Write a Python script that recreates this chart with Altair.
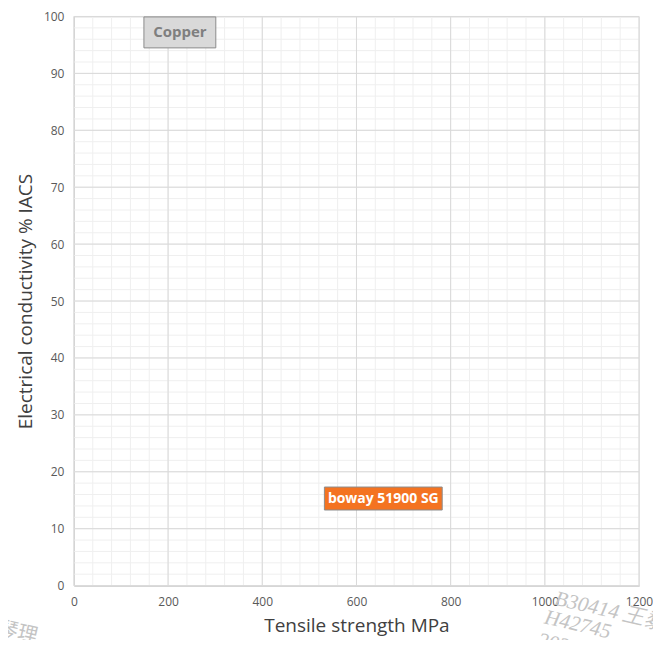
import altair as alt
import pandas as pd

labels = ["Copper", "boway 51900 SG"]
tensile = [225, 657]
conductivity = [97.2, 15.3]
fills = ["#d9d9d9", "#f47321"]
text_colors = ["#7f7f7f", "#ffffff"]
text_sizes = [15, 14]
box_widths = [72, 118]
box_heights = [31, 23]

x_major = list(range(0, 1201, 200))
x_minor = list(range(0, 1201, 40))
y_major = list(range(0, 101, 10))
y_minor = list(range(0, 101, 2))

df = pd.DataFrame({
    "label": labels, "x": tensile, "y": conductivity,
    "fill": fills, "tc": text_colors, "fs": text_sizes,
})

wm_text = ["B30414  王黎", "H42745", "2026"]
wm_x = [1022, 1000, 985]
wm_y = [-2.3, -5.6, -9.6]
wm = pd.DataFrame({"t": wm_text, "x": wm_x, "y": wm_y})
wm_left = pd.DataFrame({"t": ["黎琴理"], "x": [-78], "y": [-9.0]})

xs = alt.Scale(domain=[0, 1200], nice=False, zero=True)
ys = alt.Scale(domain=[0, 100], nice=False)
font = "Open Sans"

minor_v = alt.Chart(pd.DataFrame({"v": x_minor})).mark_rule(color="#efefef", strokeWidth=1).encode(
    x=alt.X("v:Q", scale=xs))
minor_h = alt.Chart(pd.DataFrame({"v": y_minor})).mark_rule(color="#efefef", strokeWidth=1).encode(
    y=alt.Y("v:Q", scale=ys))
major_v = alt.Chart(pd.DataFrame({"v": x_major})).mark_rule(color="#d9d9d9", strokeWidth=1).encode(
    x=alt.X("v:Q", scale=xs))
major_h = alt.Chart(pd.DataFrame({"v": y_major})).mark_rule(color="#d9d9d9", strokeWidth=1).encode(
    y=alt.Y("v:Q", scale=ys))

axes = alt.Chart(df).mark_point(opacity=0).encode(
    x=alt.X("x:Q", scale=xs, axis=alt.Axis(values=x_major, grid=False, format="d", labelFlush=False,
                                           ticks=False, domain=True, domainColor="#bfbfbf",
                                           labelColor="#595959", labelFontSize=12, labelFont=font,
                                           labelPadding=11, title="Tensile strength MPa",
                                           titleFont=font, titleFontSize=19, titleFontWeight="normal",
                                           titleColor="#404040", titlePadding=9)),
    y=alt.Y("y:Q", scale=ys, axis=alt.Axis(values=y_major, grid=False, format="d", labelFlush=False,
                                           ticks=False, domain=True, domainColor="#bfbfbf",
                                           labelColor="#595959", labelFontSize=12, labelFont=font,
                                           labelPadding=10, title="Electrical conductivity % IACS",
                                           titleFont=font, titleFontSize=19, titleFontWeight="normal",
                                           titleColor="#404040", titlePadding=8)),
)

rect_layers = []
for i in range(len(labels)):
    sub = df.iloc[[i]]
    rect_layers.append(
        alt.Chart(sub).mark_rect(stroke="#8c8c8c", strokeWidth=1, fill=fills[i],
                                 width=box_widths[i], height=box_heights[i]).encode(
            x=alt.X("x:Q", scale=xs),
            y=alt.Y("y:Q", scale=ys),
        )
    )

texts = alt.Chart(df).mark_text(fontWeight="bold", font=font).encode(
    x=alt.X("x:Q", scale=xs),
    y=alt.Y("y:Q", scale=ys),
    text="label:N",
    color=alt.Color("tc:N", scale=None),
    size=alt.Size("fs:Q", scale=None),
)

watermark = alt.Chart(wm).mark_text(font="Liberation Serif", fontStyle="italic", fontSize=21,
                                    color="#c4c4c4", angle=13, clip=False, align="left").encode(
    x=alt.X("x:Q", scale=xs),
    y=alt.Y("y:Q", scale=ys),
    text="t:N",
)
watermark_left = alt.Chart(wm_left).mark_text(font="Noto Sans CJK SC", fontSize=20,
                                              color="#c4c4c4", angle=13, clip=False, align="right").encode(
    x=alt.X("x:Q", scale=xs),
    y=alt.Y("y:Q", scale=ys),
    text="t:N",
)

chart = alt.layer(minor_v, minor_h, major_v, major_h, axes, *rect_layers, texts,
                  watermark, watermark_left).properties(
    width=566, height=570,
    autosize=alt.AutoSizeParams(type="none"),
    padding={"left": 66, "top": 8, "right": 14, "bottom": 54},
).configure_view(stroke=None).configure(background="white")

chart.save("out.html", embed_options={"renderer": "svg", "actions": False})
